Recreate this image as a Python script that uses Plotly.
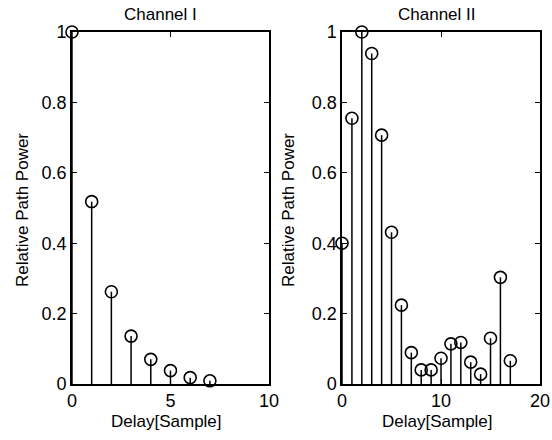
import plotly.graph_objects as go

delay1 = [0, 1, 2, 3, 4, 5, 6, 7]
power1 = [1.0, 0.518, 0.262, 0.136, 0.070, 0.038, 0.018, 0.009]

delay2 = list(range(18))
power2 = [0.40, 0.755, 1.0, 0.939, 0.707, 0.431, 0.224, 0.089, 0.040, 0.040,
          0.073, 0.114, 0.118, 0.062, 0.028, 0.130, 0.303, 0.066]

titles = ["Channel I", "Channel II"]
xlabel = "Delay[Sample]"
ylabel = "Relative Path Power"
xticks1 = [0, 5, 10]
xticks2 = [0, 10, 20]
yticks = [0, 0.2, 0.4, 0.6, 0.8, 1]
ytext = ["0", "0.2", "0.4", "0.6", "0.8", "1"]

FONT = "Liberation Sans, Arial, sans-serif"
fig = go.Figure()


def stems(xs, ys):
    sx, sy = [], []
    for x, y in zip(xs, ys):
        sx += [x, x, None]
        sy += [0, y, None]
    return sx, sy


for i, (xs, ys) in enumerate([(delay1, power1), (delay2, power2)]):
    xa = "x" if i == 0 else "x2"
    ya = "y" if i == 0 else "y2"
    sx, sy = stems(xs, ys)
    fig.add_trace(go.Scatter(x=sx, y=sy, mode="lines", xaxis=xa, yaxis=ya,
                             line=dict(color="black", width=1.5),
                             showlegend=False, cliponaxis=False))
    fig.add_trace(go.Scatter(x=xs, y=ys, mode="markers", xaxis=xa, yaxis=ya,
                             marker=dict(symbol="circle-open", size=12,
                                         color="black", line=dict(width=1.6)),
                             showlegend=False, cliponaxis=False))

axis_common = dict(showgrid=False, zeroline=False, showline=True, linecolor="black",
                   linewidth=1.5, mirror="allticks", ticks="inside", ticklen=5,
                   tickcolor="black", tickwidth=1, automargin=False,
                   tickfont=dict(family=FONT, size=18, color="black"))

fig.update_layout(
    width=552, height=440, margin=dict(l=0, r=0, t=0, b=0, autoexpand=False),
    paper_bgcolor="white", plot_bgcolor="white",
    xaxis=dict(domain=[0.1304, 0.4873], range=[0, 10], tickvals=xticks1,
               **axis_common),
    yaxis=dict(domain=[0.1273, 0.9273], range=[0, 1], tickvals=yticks,
               ticktext=ytext, **axis_common),
    xaxis2=dict(domain=[0.6196, 0.9783], range=[0, 20], tickvals=xticks2,
                anchor="y2", **axis_common),
    yaxis2=dict(domain=[0.1273, 0.9273], range=[0, 1], tickvals=yticks,
                ticktext=ytext, anchor="x2", **axis_common),
)

ann_font = dict(family=FONT, size=17, color="black")
centers = [(160, 166, 22), (437, 437, 288)]
for (tx, lx, yx), t in zip(centers, titles):
    fig.add_annotation(text=t, x=tx / 552, y=1 - 15 / 440, xref="paper", yref="paper",
                       showarrow=False, font=ann_font, xanchor="center", yanchor="middle")
    fig.add_annotation(text=xlabel, x=lx / 552, y=1 - 421 / 440, xref="paper", yref="paper",
                       showarrow=False, font=ann_font, xanchor="center", yanchor="middle")
    fig.add_annotation(text=ylabel, x=yx / 552, y=1 - 210 / 440, xref="paper", yref="paper",
                       showarrow=False, font=ann_font, textangle=-90,
                       xanchor="center", yanchor="middle")

fig.write_html("out.html")
